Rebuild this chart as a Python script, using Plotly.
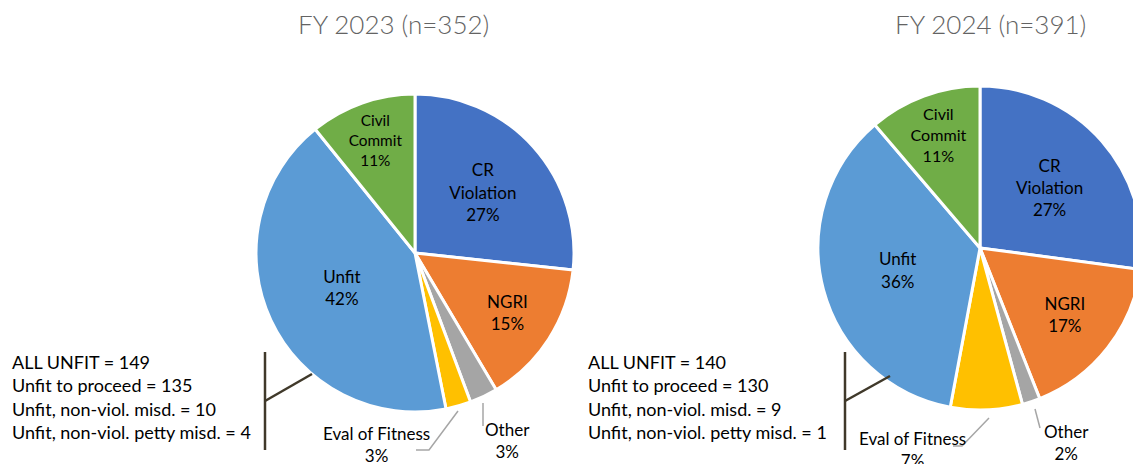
import plotly.graph_objects as go

categories = ["CR<br>Violation", "NGRI", "Other", "Eval of Fitness", "Unfit", "Civil<br>Commit"]
values_2023 = [94, 52, 10, 9, 149, 38]
values_2024 = [106, 66, 7, 28, 140, 44]
titles = ["FY 2023 (n=352)", "FY 2024 (n=391)"]
unfit_notes_2023 = ["ALL UNFIT = 149", "Unfit to proceed = 135",
                    "Unfit, non-viol. misd. = 10", "Unfit, non-viol. petty misd. = 4"]
unfit_notes_2024 = ["ALL UNFIT = 140", "Unfit to proceed = 130",
                    "Unfit, non-viol. misd. = 9", "Unfit, non-viol. petty misd. = 1"]

colors = ["#4472C4", "#ED7D31", "#A5A5A5", "#FFC000", "#5B9BD5", "#70AD47"]
# small slices get their labels outside with leader lines (drawn below)
positions = ["inside", "inside", "none", "none", "inside", "inside"]
W, H = 1141, 464
OFF = 8  # page body margin
FONT = "Lato, 'Open Sans', sans-serif"


def px(x):
    return (x - OFF) / W


def py(y):
    return 1 - (y - OFF) / H


fig = go.Figure()

# pie domains in screen pixels (x0, x1, top, bottom)
domains = [(256, 574, 94, 412), (818, 1142, 86, 410)]

for vals, (x0, x1, top, bot) in zip([values_2023, values_2024], domains):
    fig.add_trace(go.Pie(
        labels=categories,
        values=vals,
        sort=False,
        direction="clockwise",
        rotation=0,
        marker=dict(colors=colors, line=dict(color="white", width=3)),
        texttemplate="%{label}<br>%{percent:.0%}",
        textposition=positions,
        insidetextorientation="horizontal",
        textfont=dict(family=FONT, size=17, color="#000000"),
        domain=dict(x=[px(x0), min(px(x1), 1)], y=[py(bot), py(top)]),
        showlegend=False,
        hoverinfo="label+value+percent",
    ))

# titles
for t, cx in zip(titles, [393, 990]):
    fig.add_annotation(text=t, x=px(cx), y=py(24), xref="paper", yref="paper",
                       xanchor="center", yanchor="middle", showarrow=False,
                       font=dict(family=FONT, size=26, color="#636363", weight=300))

# outside labels for the small slices, with leader lines
outside = [
    # text, share, text centre, leader path
    ("Eval of Fitness", values_2023[3] / sum(values_2023), (376, 444), [(458, 411), (429, 450), (416, 450)]),
    ("Other", values_2023[2] / sum(values_2023), (507, 440), [(483, 403), (483, 426)]),
    ("Eval of Fitness", values_2024[3] / sum(values_2024), (912, 449), [(989, 418), (962, 446), (953, 446)]),
    ("Other", values_2024[2] / sum(values_2024), (1066, 442), [(1035, 409), (1040, 428)]),
]
for name, frac, (tx, ty), path in outside:
    fig.add_annotation(text=f"{name}<br>{frac:.0%}", x=px(tx), y=py(ty),
                       xref="paper", yref="paper", xanchor="center", yanchor="middle",
                       showarrow=False, font=dict(family=FONT, size=17, color="#000000"))
    d = "M " + " L ".join(f"{px(x)},{py(y)}" for x, y in path)
    fig.add_shape(type="path", path=d, xref="paper", yref="paper",
                  line=dict(color="#A6A6A6", width=1.5))

# unfit breakdown notes
for notes, tx in zip([unfit_notes_2023, unfit_notes_2024], [11, 587]):
    fig.add_annotation(text="<br>".join(notes), x=px(tx), y=py(350),
                       xref="paper", yref="paper", xanchor="left", yanchor="top",
                       align="left", showarrow=False, borderpad=0,
                       font=dict(family=FONT, size=18, color="#000000"))

# brackets linking notes to the Unfit slice
bracket_color = "#40392A"
for bx, (dx, dy) in zip([265, 845], [(312, 374), (890, 376)]):
    fig.add_shape(type="line", x0=px(bx), x1=px(bx), y0=py(352), y1=py(450),
                  xref="paper", yref="paper", line=dict(color=bracket_color, width=2.5))
    fig.add_shape(type="line", x0=px(bx), x1=px(dx), y0=py(401), y1=py(dy),
                  xref="paper", yref="paper", line=dict(color=bracket_color, width=2.5))

fig.update_layout(
    width=W, height=H,
    margin=dict(l=0, r=0, t=0, b=0),
    paper_bgcolor="white",
    plot_bgcolor="white",
    font=dict(family=FONT),
)

fig.write_html("out.html")
